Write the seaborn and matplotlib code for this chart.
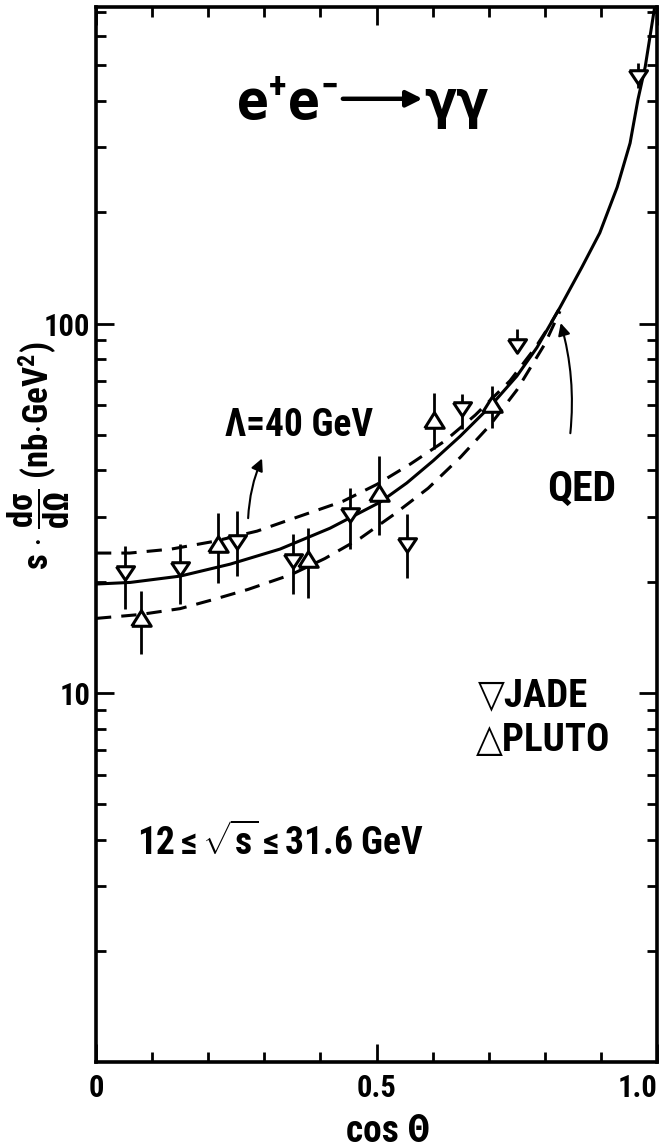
import numpy as np
import pandas as pd
import matplotlib
matplotlib.use("Agg")
import matplotlib.pyplot as plt
import seaborn as sns
from matplotlib import font_manager as fm
from matplotlib.ticker import FixedLocator, NullFormatter, FixedFormatter

# ---------------- data ----------------
jade_cos = [0.052, 0.150, 0.251, 0.351, 0.453, 0.554, 0.652, 0.750, 0.966]
jade_val = [21.1, 21.6, 25.6, 22.8, 30.3, 25.1, 58.8, 87.2, 466]
jade_hi  = [24.9, 25.3, 31.0, 26.9, 35.8, 30.5, 64.5, 96.9, 509]
jade_lo  = [16.9, 17.4, 20.7, 18.5, 24.5, 20.4, 51.8, 83.4, 435]

pluto_cos = [0.080, 0.217, 0.378, 0.504, 0.602, 0.706]
pluto_val = [15.9, 25.3, 23.1, 34.7, 54.8, 60.6]
pluto_hi  = [18.9, 30.7, 27.9, 43.8, 64.9, 67.9]
pluto_lo  = [12.7, 19.8, 18.1, 26.7, 45.7, 52.2]

qed_cos = [0.0, 0.061, 0.150, 0.239, 0.328, 0.417, 0.506, 0.554, 0.601, 0.649,
           0.702, 0.750, 0.786, 0.827, 0.866, 0.898, 0.929, 0.952, 0.966, 0.979, 0.996]
qed_val = [19.7, 19.9, 20.7, 22.3, 24.5, 27.9, 32.8, 37.0, 42.5, 49.5,
           59.5, 72.0, 86.1, 110.5, 142, 176, 234, 308, 404, 496, 722]

upper_cos = [0.0, 0.06, 0.134, 0.210, 0.287, 0.364, 0.440, 0.501, 0.561, 0.622,
             0.676, 0.738, 0.783, 0.809, 0.827]
upper_val = [23.9, 23.9, 24.5, 25.7, 27.4, 30.1, 33.0, 36.7, 41.7, 48.1,
             56.5, 70.0, 86.0, 99.0, 110.5]

lower_cos = [0.0, 0.080, 0.150, 0.210, 0.271, 0.348, 0.408, 0.471, 0.531, 0.592,
             0.650, 0.702, 0.750, 0.800, 0.827]
lower_val = [15.9, 16.3, 16.9, 17.9, 19.05, 20.9, 23.1, 26.2, 30.4, 35.8,
             43.5, 53.0, 66.0, 88.0, 108.0]

y_major = [10, 100]
y_major_labels = ["10", "100"]
x_major = [0.0, 0.5, 1.0]
x_major_labels = ["0", "0.5", "1.0"]

# ---------------- style ----------------
sns.set_theme(style="ticks")
cond = [f for f in fm.fontManager.ttflist
        if str(f.stretch) in ("condensed", "semi-condensed", "extra-condensed")
        and "Mono" not in f.name and "Serif" not in f.name and "CJK" not in f.name]
pref = ["Roboto Condensed", "Noto Sans", "Open Sans", "DejaVu Sans",
        "Liberation Sans Narrow", "Roboto", "Lato", "Inter"]
main_font, stretch = "Liberation Sans", "normal"
for p in pref:
    hit = [f for f in cond if f.name == p]
    if hit:
        main_font, stretch = p, hit[0].stretch
        break
else:
    if cond:
        main_font, stretch = cond[0].name, cond[0].stretch

plt.rcParams["font.family"] = [main_font, "DejaVu Sans"]
plt.rcParams["font.stretch"] = stretch
plt.rcParams["mathtext.fontset"] = "custom"
plt.rcParams["mathtext.rm"] = main_font + ":bold"
plt.rcParams["mathtext.it"] = main_font + ":bold"
plt.rcParams["mathtext.bf"] = main_font + ":bold"
plt.rcParams["mathtext.sf"] = main_font + ":bold"

fig = plt.figure(figsize=(6.7, 11.48), dpi=100)
ax = fig.add_axes([96 / 670, 86 / 1148, 561 / 670, 1055 / 1148])
ax.set_facecolor("white")
fig.patch.set_facecolor("white")

ax.set_yscale("log")
ax.set_xlim(0, 1.0)
ax.set_ylim(1, 720)

LW = 2.2
DASH = (0, (5, 3.3))
sns.lineplot(x=qed_cos, y=qed_val, ax=ax, color="black", lw=LW, sort=False, estimator=None)
sns.lineplot(x=upper_cos, y=upper_val, ax=ax, color="black", lw=LW, sort=False,
             estimator=None, linestyle=DASH)
sns.lineplot(x=lower_cos, y=lower_val, ax=ax, color="black", lw=LW, sort=False,
             estimator=None, linestyle=DASH)

ax.vlines(jade_cos, jade_lo, jade_hi, color="black", lw=2.0, zorder=3)
ax.vlines(pluto_cos, pluto_lo, pluto_hi, color="black", lw=2.0, zorder=3)

down_tri = [(-1, 0.75), (1, 0.75), (0, -0.75), (-1, 0.75)]
up_tri = [(-1, -0.8), (1, -0.8), (0, 0.8), (-1, -0.8)]
sns.scatterplot(x=jade_cos, y=jade_val, ax=ax, marker=down_tri, s=13 ** 2,
                facecolor="white", edgecolor="black", linewidth=2.2, zorder=4)
sns.scatterplot(x=pluto_cos, y=pluto_val, ax=ax, marker=up_tri, s=14 ** 2,
                facecolor="white", edgecolor="black", linewidth=2.2, zorder=4)

# ---------------- axes / ticks ----------------
for sp in ax.spines.values():
    sp.set_visible(True)
    sp.set_linewidth(2.6)
    sp.set_color("black")

minor_y = [m * 10 ** d for d in range(0, 3) for m in range(2, 10) if m * 10 ** d <= 720]
ax.yaxis.set_major_locator(FixedLocator(y_major))
ax.yaxis.set_major_formatter(FixedFormatter(y_major_labels))
ax.yaxis.set_minor_locator(FixedLocator(minor_y))
ax.yaxis.set_minor_formatter(NullFormatter())
ax.xaxis.set_major_locator(FixedLocator(x_major))
ax.xaxis.set_major_formatter(FixedFormatter(x_major_labels))
ax.xaxis.set_minor_locator(FixedLocator([0.1, 0.2, 0.3, 0.4, 0.6, 0.7, 0.8, 0.9]))
ax.xaxis.set_minor_formatter(NullFormatter())

ax.tick_params(which="both", direction="in", top=True, right=True, color="black",
               width=2.0)
ax.tick_params(which="major", length=13)
ax.tick_params(which="minor", length=7)
ax.tick_params(axis="y", which="major", labelsize=22, pad=4)
ax.tick_params(axis="x", which="major", labelsize=22, pad=8)
for lab in ax.get_xticklabels() + ax.get_yticklabels():
    lab.set_fontweight("bold")
    lab.set_color("black")
xl = ax.get_xticklabels()
xl[-1].set_horizontalalignment("right")

ax.set_xlabel("cos Θ", fontsize=27, fontweight="bold", color="black")
ax.xaxis.set_label_coords(0.52, -0.048)
ax.set_ylabel("")
ax.text(-0.103, 0.575,
        r"s $\cdot$ $\dfrac{\mathrm{d}\sigma}{\mathrm{d}\Omega}$ (nb$\cdot$GeV$^{2}$)",
        transform=ax.transAxes, rotation=90, ha="center", va="center",
        fontsize=25, fontweight="bold", color="black")

# ---------------- annotations ----------------
ax.text(0.431, 0.895, r"e$^{+}$e$^{-}$", transform=ax.transAxes, ha="right",
        va="baseline", fontsize=38, fontweight="bold", color="black",
        family=["DejaVu Sans"])
ax.annotate("", xy=(0.582, 0.913), xytext=(0.440, 0.913), xycoords="axes fraction",
            textcoords="axes fraction",
            arrowprops=dict(arrowstyle="-|>", color="black", lw=3.2, mutation_scale=24,
                            shrinkA=0, shrinkB=0))
ax.text(0.585, 0.895, "γγ", transform=ax.transAxes, ha="left", va="baseline",
        fontsize=38, fontweight="bold", color="black", family=["DejaVu Sans"])

ax.text(0.362, 0.603, "Λ=40 GeV", transform=ax.transAxes, ha="center", va="center",
        fontsize=27, fontweight="bold", color="black")
ax.text(0.866, 0.543, "QED", transform=ax.transAxes, ha="center", va="center",
        fontsize=30, fontweight="bold", color="black")
ax.text(0.681, 0.347, "▽JADE", transform=ax.transAxes, ha="left", va="center",
        fontsize=28, fontweight="bold", color="black")
ax.text(0.677, 0.305, "△PLUTO", transform=ax.transAxes, ha="left", va="center",
        fontsize=28, fontweight="bold", color="black")
ax.text(0.073, 0.2076, r"12$\leq\sqrt{\mathrm{s}}\leq$31.6 GeV", transform=ax.transAxes,
        ha="left", va="center", fontsize=27, fontweight="bold", color="black")

ax.annotate("", xy=(0.298, 43.8), xytext=(0.271, 29.2),
            arrowprops=dict(arrowstyle="-|>", color="black", lw=1.5,
                            mutation_scale=18, connectionstyle="arc3,rad=-0.1"))
ax.annotate("", xy=(0.827, 102), xytext=(0.845, 49.6),
            arrowprops=dict(arrowstyle="-|>", color="black", lw=1.5,
                            mutation_scale=18, connectionstyle="arc3,rad=0.1"))

fig.savefig("out.png", dpi=100, facecolor="white")
